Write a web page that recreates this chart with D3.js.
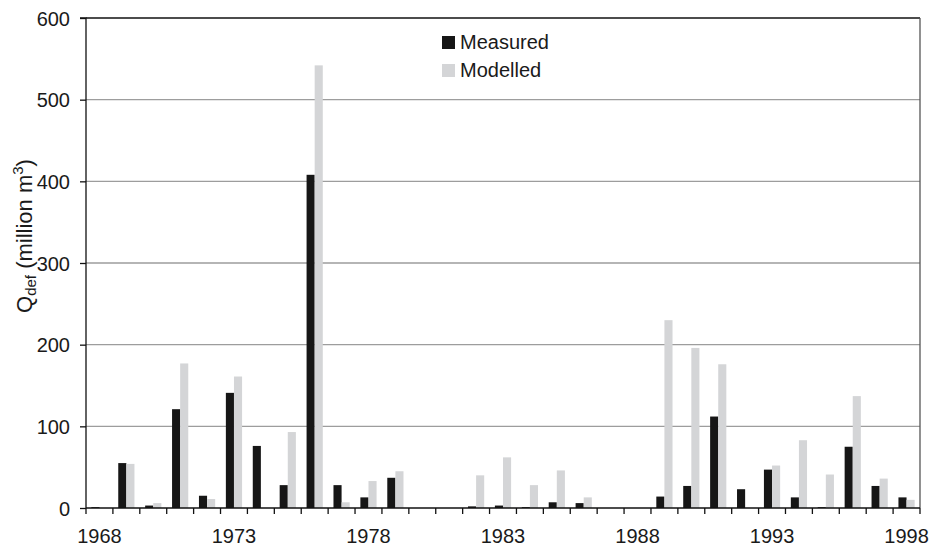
<!DOCTYPE html>
<html>
<head>
<meta charset="utf-8">
<script src="https://cdn.jsdelivr.net/npm/d3@7"></script>
<style>
  body { margin: 0; background: #fff; }
  svg text { font-family: 'Liberation Sans', Arial, sans-serif; fill: #1a1a1a; }
</style>
</head>
<body>
<div id="chart"></div>
<script>
'use strict';

// data (million m3)
var years = d3.range( 1968, 1999 );
var measured = [ 1, 55, 3, 121, 15, 141, 76, 28, 408, 28, 13, 37, 0, 0, 2, 3,
  1, 7, 6, 0, 0, 14, 27, 112, 23, 47, 13, 1, 75, 27, 13 ];
var modelled = [ 0, 54, 6, 177, 11, 161, 0, 93, 542, 7, 33, 45, 0, 0, 40, 62,
  28, 46, 13, 0, 0, 230, 196, 176, 0, 52, 83, 41, 137, 36, 10 ];
var seriesNames = [ 'Measured', 'Modelled' ];
var seriesColors = [ '#161616', '#d4d5d7' ];
var yTicks = [ 0, 100, 200, 300, 400, 500, 600 ];
var xLabels = [ 1968, 1973, 1978, 1983, 1988, 1993, 1998 ];

var width = 935,
    height = 547,
    margin = { top: 18, right: 15, bottom: 39, left: 86 };

var innerW = width - margin.left - margin.right,
    innerH = height - margin.top - margin.bottom;

var svg = d3.select( '#chart' )
  .append( 'svg' )
    .attr( 'width', width )
    .attr( 'height', height );

var g = svg.append( 'g' )
  .attr( 'transform', 'translate(' + margin.left + ',' + margin.top + ')' );

var x0 = d3.scaleBand()
  .domain( years )
  .range( [ 0, innerW ] )
  .padding( 0 );

var x1 = d3.scaleBand()
  .domain( seriesNames )
  .range( [ 0, x0.bandwidth() ] )
  .paddingInner( 0 )
  .paddingOuter( 0.66 );

var y = d3.scaleLinear()
  .domain( [ 0, 600 ] )
  .range( [ innerH, 0 ] );

// gridlines
g.append( 'g' )
  .selectAll( 'line' )
  .data( yTicks.filter( function( d ) { return d > 0 && d < 600; } ) )
  .enter()
  .append( 'line' )
    .attr( 'x1', 0 )
    .attr( 'x2', innerW )
    .attr( 'y1', function( d ) { return y( d ); } )
    .attr( 'y2', function( d ) { return y( d ); } )
    .style( 'stroke', '#9d9d9d' )
    .style( 'stroke-width', 1.3 );

// frame: top and right
g.append( 'line' )
  .attr( 'x1', 0 ).attr( 'x2', innerW )
  .attr( 'y1', y( 600 ) ).attr( 'y2', y( 600 ) )
  .style( 'stroke', '#111' )
  .style( 'stroke-width', 1.3 );
g.append( 'line' )
  .attr( 'x1', innerW ).attr( 'x2', innerW )
  .attr( 'y1', y( 600 ) ).attr( 'y2', y( 0 ) )
  .style( 'stroke', '#555' )
  .style( 'stroke-width', 1.3 );

// bars
var groups = g.selectAll( 'g.year' )
  .data( years )
  .enter()
  .append( 'g' )
    .attr( 'class', 'year' )
    .attr( 'transform', function( d ) { return 'translate(' + x0( d ) + ',0)'; } );

groups.selectAll( 'rect' )
  .data( function( d, i ) {
    return [
      { key: seriesNames[0], value: measured[i], color: seriesColors[0] },
      { key: seriesNames[1], value: modelled[i], color: seriesColors[1] }
    ];
  } )
  .enter()
  .append( 'rect' )
    .attr( 'x', function( d ) { return x1( d.key ); } )
    .attr( 'y', function( d ) { return y( d.value ); } )
    .attr( 'width', x1.bandwidth() )
    .attr( 'height', function( d ) { return innerH - y( d.value ); } )
    .style( 'fill', function( d ) { return d.color; } );

// y axis
var yAxis = g.append( 'g' )
  .call( d3.axisLeft( y ).tickValues( yTicks ).tickSize( 6 ).tickPadding( 10 ) );
yAxis.select( '.domain' ).attr( 'd', 'M-6,' + y( 600 ) + 'H0V' + y( 0 ) )
  .style( 'stroke', '#111' ).style( 'stroke-width', 1.3 );
yAxis.selectAll( '.tick line' ).style( 'stroke', '#111' ).style( 'stroke-width', 1.3 );
yAxis.selectAll( '.tick text' ).style( 'font-size', '20px' ).attr( 'dy', '0.36em' );

// x axis: ticks at band edges, labels centred in bands
var xAxis = g.append( 'g' )
  .attr( 'transform', 'translate(0,' + innerH + ')' );
xAxis.append( 'line' )
  .attr( 'x1', 0 ).attr( 'x2', innerW )
  .style( 'stroke', '#111' ).style( 'stroke-width', 1.3 );
xAxis.selectAll( 'line.tk' )
  .data( years.concat( [ 1999 ] ) )
  .enter()
  .append( 'line' )
    .attr( 'class', 'tk' )
    .attr( 'x1', function( d ) { return d === 1999 ? innerW : x0( d ); } )
    .attr( 'x2', function( d ) { return d === 1999 ? innerW : x0( d ); } )
    .attr( 'y1', 0 )
    .attr( 'y2', 6 )
    .style( 'stroke', '#111' )
    .style( 'stroke-width', 1.3 );
xAxis.selectAll( 'text' )
  .data( xLabels )
  .enter()
  .append( 'text' )
    .attr( 'x', function( d ) { return x0( d ) + x0.bandwidth() / 2; } )
    .attr( 'y', 35 )
    .style( 'font-size', '20px' )
    .style( 'text-anchor', 'middle' )
    .text( function( d ) { return d; } );

// y label
var yl = svg.append( 'text' )
  .attr( 'transform', 'translate(32,236) rotate(-90)' )
  .style( 'font-size', '22px' )
  .style( 'text-anchor', 'middle' );
yl.append( 'tspan' ).text( 'Q' );
yl.append( 'tspan' ).attr( 'dy', 4 ).style( 'font-size', '15px' ).text( 'def' );
yl.append( 'tspan' ).attr( 'dy', -4 ).text( ' (million m' );
yl.append( 'tspan' ).attr( 'dy', -9 ).style( 'font-size', '15px' ).text( '3' );
yl.append( 'tspan' ).attr( 'dy', 9 ).text( ')' );

// legend
var legend = svg.append( 'g' )
  .attr( 'transform', 'translate(442,36)' );
var items = legend.selectAll( 'g' )
  .data( seriesNames )
  .enter()
  .append( 'g' )
    .attr( 'transform', function( d, i ) { return 'translate(0,' + i * 28 + ')'; } );
items.append( 'rect' )
  .attr( 'width', 13 )
  .attr( 'height', 13 )
  .style( 'fill', function( d, i ) { return seriesColors[i]; } );
items.append( 'text' )
  .attr( 'x', 18 )
  .attr( 'y', 13 )
  .style( 'font-size', '20px' )
  .text( function( d ) { return d; } );
</script>
</body>
</html>
